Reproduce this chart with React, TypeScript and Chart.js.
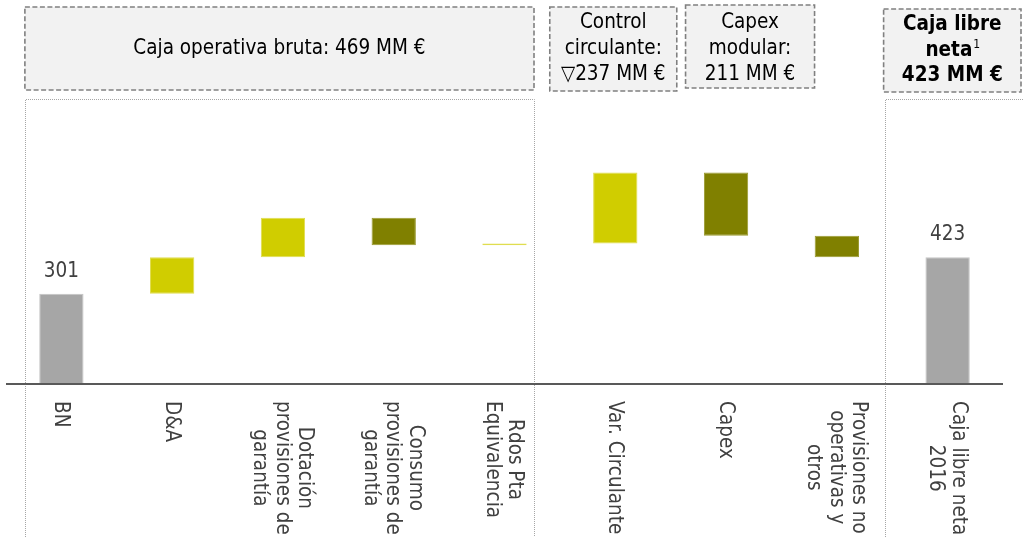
import React, { useEffect, useRef } from "react";
import { Chart, registerables } from "chart.js";

Chart.register(...registerables);

// ---------- data ----------
const categories: string[][] = [
  ["BN"],
  ["D&A"],
  ["Dotación", "provisiones de", "garantía"],
  ["Consumo", "provisiones de", "garantía"],
  ["Rdos Pta", "Equivalencia"],
  ["Var. Circulante"],
  ["Capex"],
  ["Provisiones no", "operativas y", "otros"],
  ["Caja libre neta", "2016"],
];
const values = [301, 122, 132, -92, 6, 237, -211, -72, 423];
const isTotal = [true, false, false, false, false, false, false, false, true];

const headerMain = ["Caja operativa bruta: 469 MM €"];
const headerCirculante = ["Control", "circulante:", "▽237 MM €"];
const headerCapex = ["Capex", "modular:", "211 MM €"];
const headerCaja = ["Caja libre", "neta", "423 MM €"];
const headerCajaSup = "1";

// ---------- styles ----------
const FONT = '"DejaVu Sans Condensed", "DejaVu Sans", sans-serif';
const COL_TOTAL = "#a6a6a6";
const COL_POS = "#d0cd00";
const COL_NEG = "#808000";
const BORDER_TOTAL = "#c4c4c4";
const BORDER_POS = "#e0dd50";
const BORDER_NEG = "#9a9a30";

function buildRanges() {
  const ranges: [number, number][] = [];
  let run = 0;
  values.forEach((v, i) => {
    if (isTotal[i]) {
      ranges.push([0, v]);
      run = v;
    } else {
      ranges.push([run, run + v]);
      run += v;
    }
  });
  return ranges;
}

function dashedBox(ctx: CanvasRenderingContext2D, x1: number, y1: number, x2: number, y2: number) {
  ctx.save();
  ctx.fillStyle = "#f2f2f2";
  ctx.fillRect(x1, y1, x2 - x1, y2 - y1);
  ctx.strokeStyle = "#808080";
  ctx.lineWidth = 1.6;
  ctx.setLineDash([5, 2.5]);
  ctx.strokeRect(x1, y1, x2 - x1, y2 - y1);
  ctx.restore();
}

function dottedOpenBox(ctx: CanvasRenderingContext2D, x1: number, y1: number, x2: number, y2: number) {
  ctx.save();
  ctx.strokeStyle = "#a6a6a6";
  ctx.lineWidth = 1;
  ctx.setLineDash([1, 1]);
  ctx.beginPath();
  ctx.moveTo(x1 + 0.5, y2);
  ctx.lineTo(x1 + 0.5, y1 + 0.5);
  ctx.lineTo(x2 + 0.5, y1 + 0.5);
  ctx.lineTo(x2 + 0.5, y2);
  ctx.stroke();
  ctx.restore();
}

function centeredLines(ctx: CanvasRenderingContext2D, lines: string[], cx: number, cy: number, lh: number, font: string) {
  ctx.save();
  ctx.font = font;
  ctx.fillStyle = "#000000";
  ctx.textAlign = "center";
  ctx.textBaseline = "middle";
  const n = lines.length;
  lines.forEach((t, k) => {
    ctx.fillText(t, cx, cy + (k - (n - 1) / 2) * lh);
  });
  ctx.restore();
}

const decorPlugin = {
  id: "decor",
  beforeDatasetsDraw(chart: any) {
    const ctx: CanvasRenderingContext2D = chart.ctx;
    const xs = chart.scales.x;
    const H = chart.height;
    const W = chart.width;
    const c = (i: number) => xs.getPixelForValue(i);

    // header boxes
    const b1 = [c(0) - 36.5, 7, c(4) + 29.5, 90];
    const b2 = [c(5) - 65.5, 7, c(5) + 61.5, 91];
    const b3 = [c(6) - 40.5, 5, c(6) + 88.5, 88];
    const b4 = [c(8) - 64, 9, W - 2, 92];
    dashedBox(ctx, b1[0], b1[1], b1[2], b1[3]);
    dashedBox(ctx, b2[0], b2[1], b2[2], b2[3]);
    dashedBox(ctx, b3[0], b3[1], b3[2], b3[3]);
    dashedBox(ctx, b4[0], b4[1], b4[2], b4[3]);

    // dotted open boxes around groups
    dottedOpenBox(ctx, Math.round(b1[0]), 99, Math.round(b1[2]), H);
    dottedOpenBox(ctx, Math.round(b4[0] + 1), 99, W + 10, H);

    const f = `20.5px ${FONT}`;
    const fb = `bold 20.5px ${FONT}`;
    const lh = 26;
    centeredLines(ctx, headerMain, (b1[0] + b1[2]) / 2, 48.5, lh, f);
    centeredLines(ctx, headerCirculante, (b2[0] + b2[2]) / 2, 49, lh, f);
    centeredLines(ctx, headerCapex, (b3[0] + b3[2]) / 2, 49, lh, f);

    // Caja libre neta (bold with superscript)
    const cx4 = (b4[0] + b4[2]) / 2;
    const cy4 = 50.5;
    ctx.save();
    ctx.fillStyle = "#000000";
    ctx.textBaseline = "middle";
    ctx.textAlign = "center";
    ctx.font = fb;
    ctx.fillText(headerCaja[0], cx4, cy4 - 25.5);
    ctx.fillText(headerCaja[2], cx4, cy4 + 25.5);
    const wN = ctx.measureText(headerCaja[1]).width;
    ctx.font = `12px ${FONT}`;
    const wS = ctx.measureText(headerCajaSup).width;
    const sx = cx4 - (wN + wS) / 2;
    ctx.textAlign = "left";
    ctx.font = fb;
    ctx.fillText(headerCaja[1], sx, cy4);
    ctx.font = `12px ${FONT}`;
    ctx.fillText(headerCajaSup, sx + wN + 1, cy4 - 6);
    ctx.restore();
  },
  afterDatasetsDraw(chart: any) {
    const ctx: CanvasRenderingContext2D = chart.ctx;
    const xs = chart.scales.x;
    const ys = chart.scales.y;
    const area = chart.chartArea;
    const y0 = ys.getPixelForValue(0);

    // baseline
    ctx.save();
    ctx.strokeStyle = "#595959";
    ctx.lineWidth = 2;
    ctx.beginPath();
    ctx.moveTo(area.left, y0);
    ctx.lineTo(area.right, y0);
    ctx.stroke();
    ctx.restore();

    // value labels on totals
    ctx.save();
    ctx.font = `20.5px ${FONT}`;
    ctx.fillStyle = "#404040";
    ctx.textAlign = "center";
    ctx.textBaseline = "middle";
    values.forEach((v, i) => {
      if (!isTotal[i]) return;
      const top = ys.getPixelForValue(v);
      ctx.fillText(String(v), xs.getPixelForValue(i), top - 22.5);
    });
    ctx.restore();

    // rotated category labels
    ctx.save();
    ctx.font = `20.5px ${FONT}`;
    ctx.fillStyle = "#404040";
    ctx.textAlign = "center";
    ctx.textBaseline = "middle";
    const lh = 22.5;
    categories.forEach((lines, i) => {
      const x = xs.getPixelForValue(i);
      const wMax = Math.max(...lines.map((t) => ctx.measureText(t).width));
      ctx.save();
      ctx.translate(x - 1, 401);
      ctx.rotate(Math.PI / 2);
      const n = lines.length;
      lines.forEach((t, k) => {
        ctx.fillText(t, wMax / 2, (k - (n - 1) / 2) * lh);
      });
      ctx.restore();
    });
    ctx.restore();
  },
};

export default function App() {
  const ref = useRef<HTMLCanvasElement | null>(null);

  useEffect(() => {
    if (!ref.current) return;
    const ranges = buildRanges();
    const bg = values.map((v, i) => (isTotal[i] ? COL_TOTAL : v >= 0 ? COL_POS : COL_NEG));
    const bc = values.map((v, i) => (isTotal[i] ? BORDER_TOTAL : v >= 0 ? BORDER_POS : BORDER_NEG));
    const chart = new Chart(ref.current, {
      type: "bar",
      data: {
        labels: categories.map((c) => c.join(" ")),
        datasets: [
          {
            data: ranges as any,
            backgroundColor: bg,
            borderColor: bc,
            borderWidth: 1,
            borderSkipped: false,
            barPercentage: 0.4,
            categoryPercentage: 1,
          },
        ],
      },
      options: {
        animation: false,
        responsive: false,
        devicePixelRatio: 1,
        layout: { padding: { left: 6, right: 20, top: 99, bottom: 153 } },
        scales: {
          x: { display: false },
          y: { display: false, min: 0, max: 951 },
        },
        plugins: {
          legend: { display: false },
          tooltip: { enabled: false },
        },
      },
      plugins: [decorPlugin],
    });
    return () => chart.destroy();
  }, []);

  return (
    <div style={{ position: "absolute", left: 0, top: 0, width: 1023, height: 537, background: "#ffffff", overflow: "hidden" }}>
      <canvas ref={ref} width={1023} height={537} style={{ display: "block" }} />
    </div>
  );
}
